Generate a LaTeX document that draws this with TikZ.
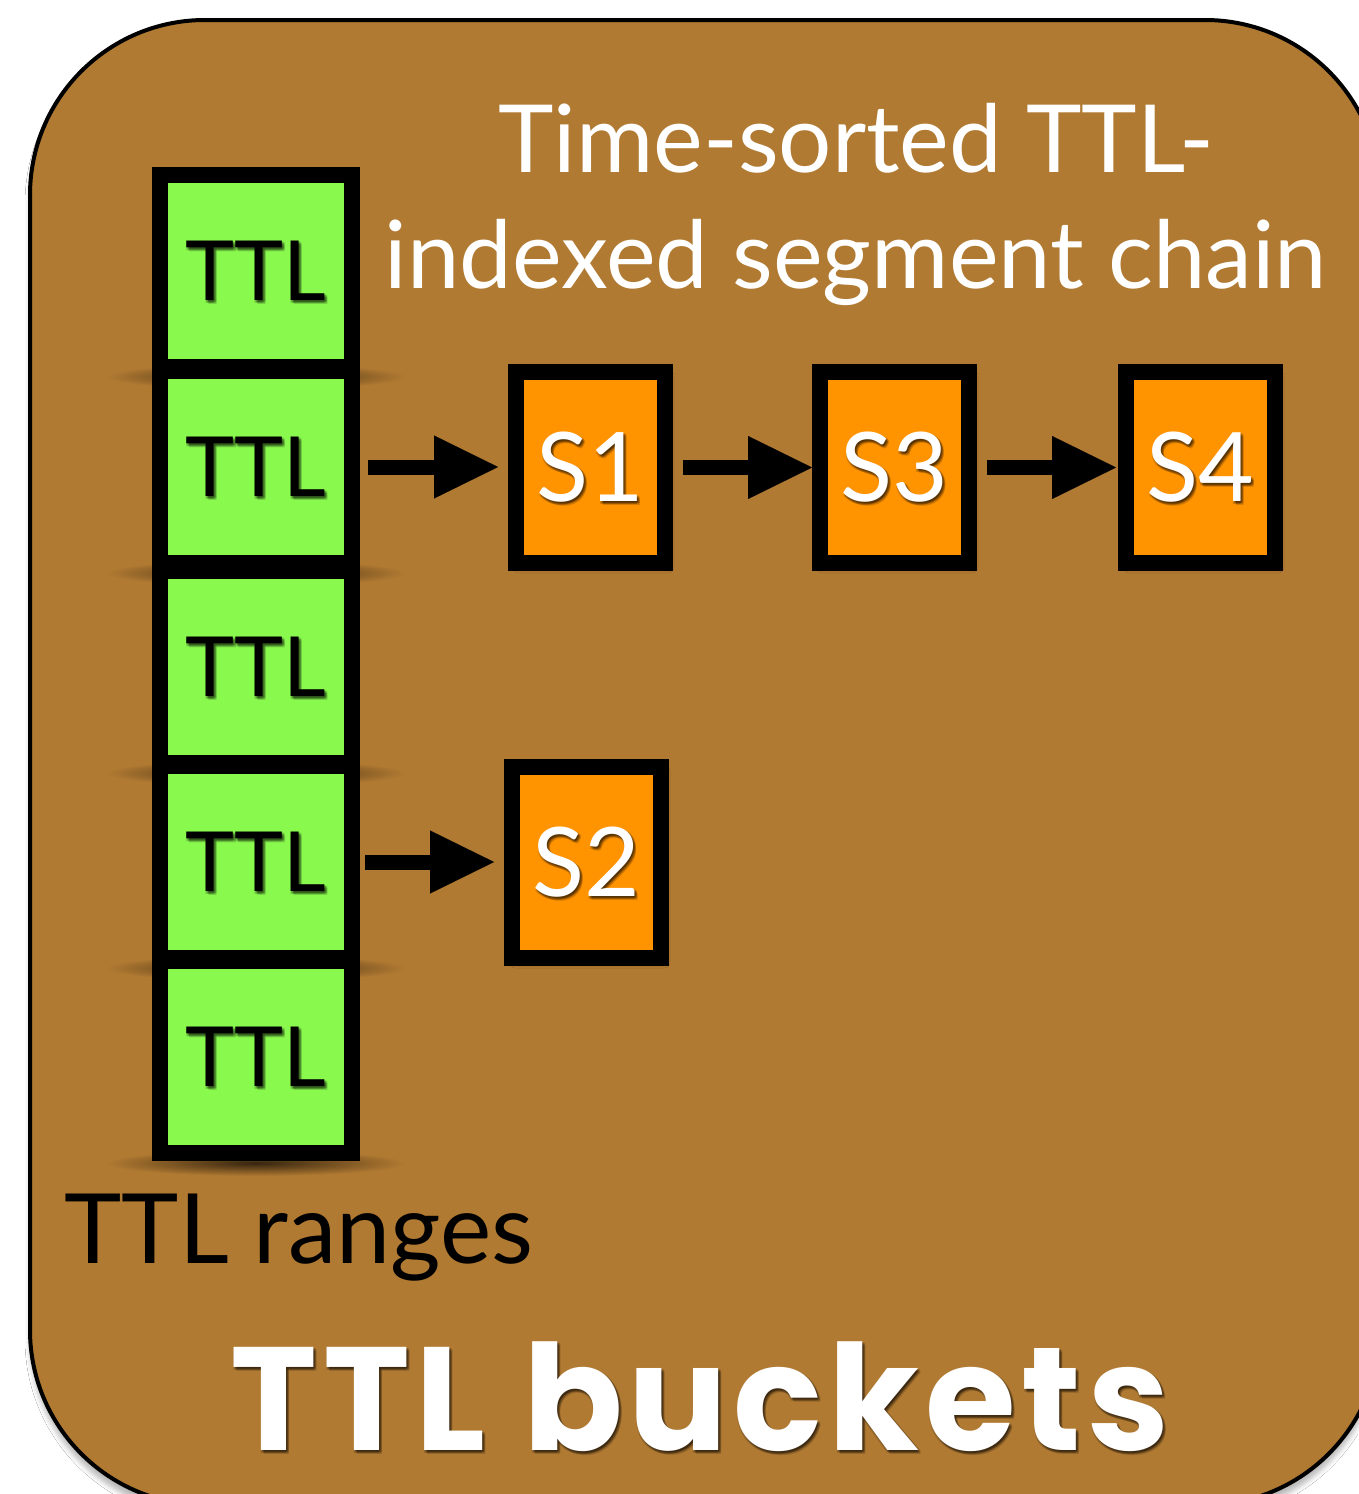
\documentclass[tikz,border=0pt]{standalone}
\usepackage{fontspec}
\setmainfont{Lato}
\newfontfamily\heavyfont{Poppins}[LetterSpace=4]
\usetikzlibrary{arrows.meta,shadows.blur,calc}

\definecolor{panel}{RGB}{177,122,50}
\definecolor{cellgreen}{RGB}{137,249,78}
\definecolor{segorange}{RGB}{255,147,0}

% soft text shadow: several faint copies behind the text
\newcommand\softshadow[4]{%
  \foreach \dx/\dy/\k in {1/2/a,2/3/b,3/4/c,2/1/d,0/3/e,3/2/f}{%
    \node[#3,text=black,text opacity=0.16] (#1-sh-\k) at ($(#2)+(\dx,\dy)$) {#4};}%
}

\tikzset{
  ttlcell/.style={draw=black, fill=cellgreen, line width=16pt,
    minimum width=192pt, minimum height=192pt, inner sep=0pt, outer sep=0pt},
  segbox/.style={draw=black, fill=segorange, line width=16pt,
    minimum width=149pt, minimum height=191pt, inner sep=0pt, outer sep=0pt,
    blur shadow={shadow xshift=3pt, shadow yshift=-4pt, shadow blur radius=6pt, shadow opacity=45}},
  ttltext/.style={inner sep=0pt, font=\fontsize{83}{83}\selectfont, text=black},
  segtext/.style={inner sep=0pt, font=\fontsize{96}{96}\selectfont, text=white},
  headtext/.style={inner sep=0pt, font=\fontsize{94}{116}\selectfont, text=white, anchor=base},
  link/.style={draw=black, fill=black, draw opacity=1, fill opacity=1, line width=15pt,
    -{Triangle[length=64pt, width=63pt, line width=0.1pt, fill=black]}},
  contact/.style={inner color=black!70!panel, outer color=panel},
  bigtitle/.style={inner sep=0pt, anchor=base, font=\heavyfont\bfseries\fontsize{147}{147}\selectfont},
}

\begin{document}
\begin{tikzpicture}[x=1pt, y=-1pt]
\useasboundingbox (0,0) rectangle (1358,1494);
\fill[white] (0,0) rectangle (1358,1494);

% rounded panel
\draw[line width=4pt, fill=panel, rounded corners=175pt,
  blur shadow={shadow xshift=0pt, shadow yshift=-9pt, shadow blur radius=5pt, shadow opacity=28}]
  (30,20) rectangle (1380,1505);

% heading
\node[headtext] (head1) at (856,172) {Time-sorted TTL-};
\node[headtext] (head2) at (856,288) {indexed segment chain};

% contact shadows under the TTL cells
\foreach \yb in {374.5,571,771,966,1161}{
  \shade[contact] (256,\yb+2) ellipse [x radius=150, y radius=13];
}

% TTL range column
\node[ttlcell] (t1) at (256,270.5) {};
\node[ttlcell] (t2) at (256,467) {};
\node[ttlcell] (t3) at (256,667) {};
\node[ttlcell] (t4) at (256,862) {};
\node[ttlcell] (t5) at (256,1057) {};
\foreach \c in {t1,t2,t3,t4,t5}{
  \softshadow{\c-lab}{\c}{ttltext}{TTL}
  \node[ttltext] (\c-lab) at (\c) {TTL};
}

% segments
\node[segbox] (s1) at (590.5,467.5) {};
\node[segbox] (s3) at (894.5,467.5) {};
\node[segbox] (s4) at (1200.5,467.5) {};
\node[segbox] (s2) at (586.5,862.5) {};
\foreach \s/\t in {s1/S1,s3/S3,s4/S4,s2/S2}{
  \softshadow{\s-lab}{\s}{segtext}{\t}
  \node[segtext] (\s-lab) at (\s) {\t};
}

% links
\draw[link, shorten <=16pt, shorten >=18pt] (t2.east) -- (t2.east -| s1.west);
\draw[link, shorten <=18pt, shorten >=8pt] (s1.east) -- (s3.west);
\draw[link, shorten <=18pt, shorten >=10pt] (s3.east) -- (s4.west);
\draw[link, shorten <=13pt, shorten >=18pt] (t4.east) -- (t4.east -| s2.west);

% captions
\node[inner sep=0pt, anchor=base, font=\fontsize{97}{97}\selectfont, text=black] (ranges) at (299,1263) {TTL ranges};
\coordinate (bk) at (700,1450);
\softshadow{buckets}{bk}{bigtitle}{TTL buckets}
\node[bigtitle, text=white] (buckets) at (bk) {TTL buckets};
\end{tikzpicture}
\end{document}
